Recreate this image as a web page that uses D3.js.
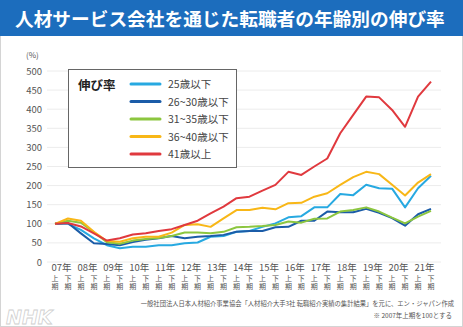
<!DOCTYPE html>
<html>
<head>
<meta charset="utf-8">
<script src="https://cdn.jsdelivr.net/npm/d3@7"></script>
<style>
  body { margin: 0; background: #fff; }
  svg { display: block; font-family: "Noto Sans CJK JP", "Noto Sans", sans-serif; }
</style>
</head>
<body>
<div class="container"></div>
<script>
const years = ['07年', '08年', '09年', '10年', '11年', '12年', '13年', '14年', '15年', '16年', '17年', '18年', '19年', '20年', '21年'];
const halves = ['上', '下'];
const yTicks = [0, 50, 100, 150, 200, 250, 300, 350, 400, 450, 500];

const u25 = [100, 100, 84, 62, 44, 36, 40, 40, 44, 44, 49, 51, 66, 68, 79, 81, 92, 101, 117, 120, 143, 143, 178, 175, 202, 193, 192, 143, 193, 226];
const a26to30 = [100, 102, 75, 49, 47, 44, 52, 58, 62, 68, 62, 66, 68, 71, 79, 81, 81, 91, 92, 108, 108, 132, 130, 130, 139, 129, 115, 95, 125, 139];
const a31to35 = [100, 108, 103, 78, 52, 48, 56, 60, 63, 68, 77, 77, 75, 79, 91, 92, 94, 97, 106, 103, 113, 114, 132, 136, 143, 132, 116, 101, 119, 134];
const a36to40 = [100, 114, 108, 79, 55, 53, 62, 66, 66, 77, 97, 99, 92, 114, 136, 136, 142, 138, 154, 155, 171, 180, 202, 222, 236, 230, 202, 174, 208, 230];
const a41up = [100, 102, 93, 75, 56, 62, 72, 75, 81, 86, 97, 108, 127, 145, 167, 171, 187, 202, 236, 228, 250, 271, 337, 385, 433, 431, 398, 354, 433, 472];

const seriesNames = ['25歳以下', '26~30歳以下', '31~35歳以下', '36~40歳以下', '41歳以上'];
const seriesValues = [u25, a26to30, a31to35, a36to40, a41up];
const seriesColors = ['#27a9e1', '#1b5ca8', '#8cc63f', '#f8b717', '#e0393e'];

const title = '人材サービス会社を通じた転職者の年齢別の伸び率';
const source = '一般社団法人日本人材紹介事業協会「人材紹介大手3社 転職紹介実績の集計結果」を元に、エン・ジャパン作成';
const note = '※ 2007年上期を100とする';

const W = 463, H = 327;
const periods = [];
years.forEach(y => halves.forEach(h => periods.push(y + h)));

const svg = d3.select('.container').append('svg')
    .attr('width', W)
    .attr('height', H);

// frame + title bar
svg.append('rect').attr('x', 0.5).attr('y', 0.5).attr('width', W - 1).attr('height', H - 1)
    .attr('fill', '#fff').attr('stroke', '#d4d4d4');
svg.append('rect').attr('x', 0).attr('y', 0).attr('width', W).attr('height', 36).attr('fill', '#1c6dbd');
svg.append('text').attr('x', 15).attr('y', 26)
    .attr('fill', '#fff').attr('font-size', 18.7).attr('font-weight', 'bold')
    .text(title);

const x = d3.scalePoint().domain(periods).range([55, 431]);
const y = d3.scaleLinear().domain([0, 500]).range([262, 71]);

// gridlines
svg.append('g')
    .selectAll('line')
    .data(yTicks)
    .join('line')
    .attr('x1', 47).attr('x2', 441)
    .attr('y1', d => y(d)).attr('y2', d => y(d))
    .attr('stroke', '#ececec').attr('stroke-width', 1);

// y axis labels
const yAxis = svg.append('g')
    .attr('transform', 'translate(42,0)')
    .call(d3.axisLeft(y).tickValues(yTicks).tickSize(0).tickPadding(0));
yAxis.select('.domain').remove();
yAxis.selectAll('text')
    .attr('font-size', 9.5).attr('fill', '#555')
    .attr('font-family', '"Noto Sans CJK JP", sans-serif');

svg.append('text').attr('x', 26).attr('y', 58)
    .attr('font-size', 8).attr('fill', '#555').text('(%)');

// x labels
const xl = svg.append('g').attr('fill', '#555');
xl.selectAll('.yr')
    .data(years)
    .join('text')
    .attr('class', 'yr')
    .attr('x', d => (x(d + halves[0]) + x(d + halves[1])) / 2)
    .attr('y', 271)
    .attr('text-anchor', 'middle')
    .attr('font-size', 9.5)
    .text(d => d);
xl.selectAll('.hf')
    .data(periods)
    .join('text')
    .attr('class', 'hf')
    .attr('x', d => x(d))
    .attr('y', 280.5)
    .attr('text-anchor', 'middle')
    .attr('font-size', 7)
    .text(d => d.slice(-1));
xl.selectAll('.ki')
    .data(periods)
    .join('text')
    .attr('class', 'ki')
    .attr('x', d => x(d))
    .attr('y', 289)
    .attr('text-anchor', 'middle')
    .attr('font-size', 7)
    .text('期');

// lines
const line = d3.line()
    .x((d, i) => x(periods[i]))
    .y(d => y(d));

svg.append('g')
    .selectAll('path')
    .data(seriesValues)
    .join('path')
    .attr('d', d => line(d))
    .attr('fill', 'none')
    .attr('stroke', (d, i) => seriesColors[i])
    .attr('stroke-width', 2)
    .attr('stroke-linejoin', 'round');

// legend
const lg = svg.append('g');
lg.append('rect').attr('x', 68.5).attr('y', 69.5).attr('width', 168).attr('height', 98)
    .attr('fill', '#fff').attr('stroke', '#666').attr('stroke-width', 1);
lg.append('text').attr('x', 78).attr('y', 90)
    .attr('font-size', 12.5).attr('font-weight', 'bold').attr('fill', '#222')
    .text('伸び率');
const items = lg.selectAll('.item')
    .data(seriesNames)
    .join('g')
    .attr('class', 'item')
    .attr('transform', (d, i) => `translate(0,${84 + i * 17.5})`);
items.append('line')
    .attr('x1', 131).attr('x2', 160)
    .attr('stroke', (d, i) => seriesColors[i])
    .attr('stroke-width', 3).attr('stroke-linecap', 'round');
items.append('text')
    .attr('x', 168).attr('y', 4)
    .attr('font-size', 10.5).attr('fill', '#444')
    .text(d => d);

// source notes
svg.append('text').attr('x', 454).attr('y', 306)
    .attr('text-anchor', 'end').attr('font-size', 6.3).attr('fill', '#555')
    .text(source);
svg.append('text').attr('x', 452).attr('y', 318)
    .attr('text-anchor', 'end').attr('font-size', 6.5).attr('fill', '#555')
    .text(note);

// NHK watermark
svg.append('text').attr('x', 6).attr('y', 324)
    .attr('font-size', 19).attr('font-weight', 'bold').attr('font-style', 'italic')
    .attr('font-family', '"DejaVu Sans", sans-serif')
    .attr('fill', '#fff').attr('stroke', '#cfcfcf').attr('stroke-width', 0.8)
    .text('NHK');
</script>
</body>
</html>
